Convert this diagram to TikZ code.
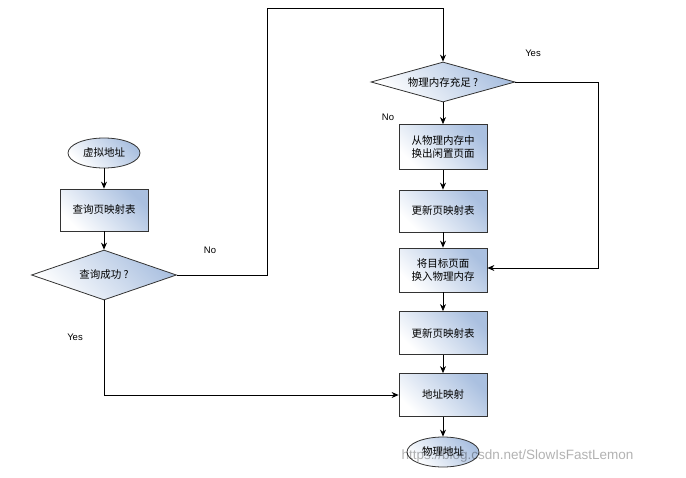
\documentclass[tikz,border=0pt]{standalone}
\usepackage{fontspec}
\setmainfont{Liberation Sans}
\newfontfamily\cjk{Noto Sans CJK SC}
\usetikzlibrary{shapes.geometric,arrows.meta}
\definecolor{sb}{RGB}{170,192,224}
\begin{document}
\begin{tikzpicture}[x=1pt,y=-1pt,
  base/.style={draw=black!80,line width=0.8pt,left color=white,right color=sb,shading angle=135,font=\cjk\fontsize{10.5}{13}\selectfont,align=center,inner sep=0pt},
  box/.style={base,rectangle,minimum width=88,minimum height=42},
  term/.style={base,ellipse,minimum width=72,minimum height=30},
  dec/.style={base,diamond,aspect=2.9,minimum width=145,minimum height=50},
  arr/.style={draw=black,line width=0.8pt,-{Stealth[length=7pt,width=6pt]}},
  lbl/.style={font=\fontsize{9.5}{11}\selectfont}]
\useasboundingbox (0,0) rectangle (686,477);
\node[term] (va) at (104,153) {虚拟地址};
\node[box] (q) at (104,210) {查询页映射表};
\node[dec] (ok) at (104,275) {查询成功 ?};
\node[dec,minimum width=144,minimum height=40] (mem) at (443,82) {物理内存充足 ?};
\node[box,minimum height=45] (out) at (443,147) {从物理内存中\\换出闲置页面};
\node[box] (u1) at (443,211) {更新页映射表};
\node[box,minimum height=44] (in) at (443,270) {将目标页面\\换入物理内存};
\node[box,minimum height=43] (u2) at (443,333) {更新页映射表};
\node[box,minimum height=43] (map) at (443,395) {地址映射};
\node[term] (pa) at (443,452) {物理地址};
\coordinate (c1) at (267,275); \coordinate (c2) at (267,8); \coordinate (c3) at (443,8);
\coordinate (c4) at (598,82); \coordinate (c5) at (598,268);
\coordinate (c6) at (104,395);
\draw[arr] (va) -- (q);
\draw[arr] (q) -- (ok);
\draw[arr] (ok.east) -- (c1) -- (c2) -- (c3) -- (mem.north);
\draw[arr] (mem.east) -- (c4) -- (c5) -- (in.east |- c5);
\draw[arr] (mem) -- (out);
\draw[arr] (out) -- (u1);
\draw[arr] (u1) -- (in);
\draw[arr] (in) -- (u2);
\draw[arr] (u2) -- (map);
\draw[arr] (map) -- (pa);
\draw[arr] (ok.south) -- (c6) -- (map.west);
\node[lbl] (n1) at (210,250) {No};
\node[lbl] (y1) at (533,53) {Yes};
\node[lbl] (n2) at (388,117) {No};
\node[lbl] (y2) at (75,337) {Yes};
\node[text=black,text opacity=0.3,font=\fontsize{13.5}{15}\selectfont,anchor=west] (wm) at (398,456) {https://blog.csdn.net/SlowIsFastLemon};
\end{tikzpicture}
\end{document}
